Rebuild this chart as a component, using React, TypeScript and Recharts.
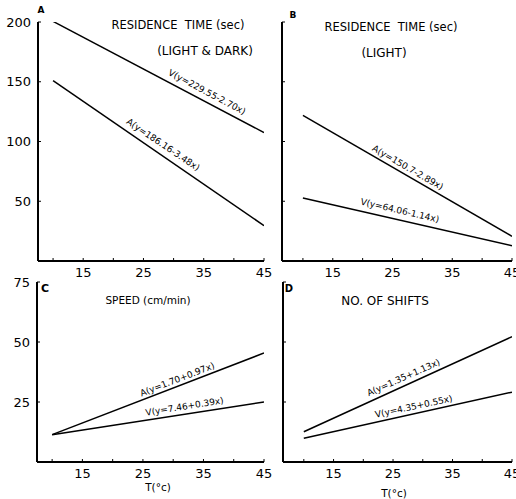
import { LineChart, Line, XAxis, YAxis, ReferenceDot } from "recharts";

// temperatures (°C) at the two ends of each fitted line
const temps = [10, 45];
const xTicks = [10, 15, 20, 25, 30, 35, 40, 45];
const xLabels = [15, 25, 35, 45];
const residenceTicks = [50, 100, 150, 200];
const smallTicks = [25, 50, 75];

// values at 10 and 45 °C
const residenceBothV = [200.5, 107.5];
const residenceBothA = [151, 29.6];
const residenceLightA = [121.8, 20.7];
const residenceLightV = [52.7, 12.8];
const speedA = [11.4, 45.4];
const speedV = [11.4, 25];
const shiftsA = [12.6, 52.2];
const shiftsV = [9.9, 29.1];

const FONT = "'DejaVu Sans', 'Liberation Sans', sans-serif";

const rows = (a: number[], v: number[]) => temps.map((t, i) => ({ t, a: a[i], v: v[i] }));

type Tag = { x: number; y: number; angle: number; text: string };

function Panel({
  left,
  top,
  width,
  height,
  margin,
  xDomain,
  yDomain,
  yTicks,
  yLabels,
  data,
  tags,
}: {
  left: number;
  top: number;
  width: number;
  height: number;
  margin: { top: number; right: number; bottom: number; left: number };
  xDomain: [number, number];
  yDomain: [number, number];
  yTicks: number[];
  yLabels: boolean;
  data: { t: number; a: number; v: number }[];
  tags: Tag[];
}) {
  return (
    <div style={{ position: "absolute", left, top }}>
      <LineChart width={width} height={height} data={data} margin={margin}>
        <XAxis
          dataKey="t"
          type="number"
          domain={xDomain}
          ticks={xTicks}
          interval={0}
          allowDataOverflow
          tickFormatter={(v: number) => (xLabels.includes(v) ? String(v) : "")}
          axisLine={{ stroke: "#000", strokeWidth: 2 }}
          tickLine={{ stroke: "#000", strokeWidth: 1 }}
          tickSize={-3}
          tickMargin={10}
          tick={{ fill: "#000", fontSize: 13, fontFamily: FONT }}
          height={30}
        />
        <YAxis
          type="number"
          domain={yDomain}
          ticks={yTicks}
          interval={0}
          allowDataOverflow
          tickFormatter={(v: number) => (yLabels ? String(v) : "")}
          axisLine={{ stroke: "#000", strokeWidth: 2 }}
          tickLine={{ stroke: "#000", strokeWidth: 1 }}
          tickSize={-3}
          tickMargin={10}
          tick={{ fill: "#000", fontSize: 13, fontFamily: FONT }}
          width={38}
        />
        <Line dataKey="a" stroke="#000" strokeWidth={1.5} dot={false} isAnimationActive={false} />
        <Line dataKey="v" stroke="#000" strokeWidth={1.5} dot={false} isAnimationActive={false} />
        {tags.map((g) => (
          <ReferenceDot
            key={g.text}
            x={g.x}
            y={g.y}
            r={0}
            shape={(p: any) => (
              <text
                x={p.cx}
                y={p.cy}
                transform={`rotate(${g.angle} ${p.cx} ${p.cy})`}
                textAnchor="middle"
                dominantBaseline="middle"
                fontSize={9}
                fontFamily={FONT}
                fill="#000"
              >
                {g.text}
              </text>
            )}
          />
        ))}
      </LineChart>
    </div>
  );
}

function Note({ x, y, text, size = 11.5, bold = false }: { x: number; y: number; text: string; size?: number; bold?: boolean }) {
  return (
    <div
      style={{
        position: "absolute",
        left: x,
        top: y,
        transform: "translate(-50%, -50%)",
        fontFamily: FONT,
        fontSize: size,
        fontWeight: bold ? 700 : 400,
        whiteSpace: "pre",
        color: "#000",
      }}
    >
      {text}
    </div>
  );
}

export default function App() {
  return (
    <div
      style={{
        position: "absolute",
        left: 0,
        top: 0,
        width: 516,
        height: 499,
        background: "#fff",
        overflow: "hidden",
      }}
    >
      <Panel
        left={0}
        top={0}
        width={280}
        height={295}
        margin={{ top: 22, right: 16, bottom: 4, left: 0 }}
        xDomain={[7.5, 45]}
        yDomain={[0, 200]}
        yTicks={residenceTicks}
        yLabels
        data={rows(residenceBothA, residenceBothV)}
        tags={[
          { x: 35.5, y: 141, angle: 28, text: "V(y=229.55-2.70x)" },
          { x: 28.2, y: 97, angle: 34, text: "A(y=186.16-3.48x)" },
        ]}
      />
      <Panel
        left={244}
        top={0}
        width={272}
        height={295}
        margin={{ top: 22, right: 4, bottom: 4, left: 0 }}
        xDomain={[6.5, 45]}
        yDomain={[0, 200]}
        yTicks={residenceTicks}
        yLabels={false}
        data={rows(residenceLightA, residenceLightV)}
        tags={[
          { x: 27.5, y: 77.8, angle: 30, text: "A(y=150.7-2.89x)" },
          { x: 26.2, y: 41.8, angle: 13, text: "V(y=64.06-1.14x)" },
        ]}
      />
      <Panel
        left={-1}
        top={262}
        width={281}
        height={237}
        margin={{ top: 20, right: 16, bottom: 7, left: 0 }}
        xDomain={[7.5, 45]}
        yDomain={[0, 75]}
        yTicks={smallTicks}
        yLabels
        data={rows(speedA, speedV)}
        tags={[
          { x: 30.7, y: 34.2, angle: -21, text: "A(y=1.70+0.97x)" },
          { x: 31.9, y: 22.9, angle: -9, text: "V(y=7.46+0.39x)" },
        ]}
      />
      <Panel
        left={245}
        top={262}
        width={271}
        height={237}
        margin={{ top: 20, right: 4, bottom: 7, left: 0 }}
        xDomain={[6.5, 45]}
        yDomain={[0, 75]}
        yTicks={smallTicks}
        yLabels={false}
        data={rows(shiftsA, shiftsV)}
        tags={[
          { x: 26.8, y: 35, angle: -24, text: "A(y=1.35+1.13x)" },
          { x: 28.5, y: 22.9, angle: -12, text: "V(y=4.35+0.55x)" },
        ]}
      />

      <Note x={41} y={10} text="A" size={9} bold />
      <Note x={178} y={25} text="RESIDENCE  TIME (sec)" />
      <Note x={205} y={51} text="(LIGHT & DARK)" size={12} />

      <Note x={293} y={15} text="B" size={9} bold />
      <Note x={391} y={27} text="RESIDENCE  TIME (sec)" />
      <Note x={384} y={53} text="(LIGHT)" size={12} />

      <Note x={45} y={288} text="C" size={11} bold />
      <Note x={148} y={300} text="SPEED (cm/min)" size={10.5} />
      <Note x={158} y={487} text="T(°c)" size={10.5} />

      <Note x={289} y={288} text="D" size={10} bold />
      <Note x={385} y={301} text="NO. OF SHIFTS" size={12} />
      <Note x={394} y={493} text="T(°c)" size={10.5} />
    </div>
  );
}
